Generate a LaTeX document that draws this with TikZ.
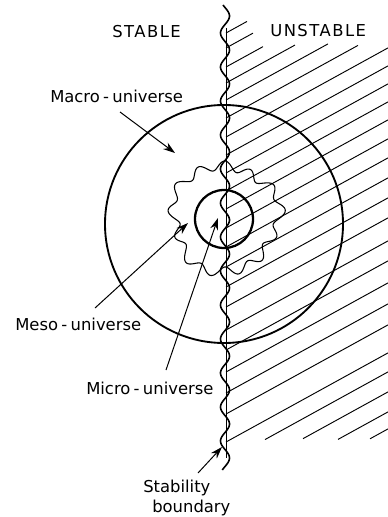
\documentclass[tikz,border=0pt]{standalone}
\usepackage{fontspec}
\setmainfont{DejaVu Sans}
\usetikzlibrary{arrows.meta}
\begin{document}
\begin{tikzpicture}[x=0.75pt,y=-0.75pt,
  lbl/.style={inner sep=0pt, anchor=base west, font=\fontsize{12.3}{14}\selectfont},
  hatch/.style={line width=0.7pt},
  bigring/.style={line width=1.4pt},
  smallring/.style={line width=1.7pt},
  blob/.style={line width=0.8pt},
  pointer/.style={line width=0.75pt, -{Stealth[length=9pt,width=6pt]}},
  wave/.style={line width=1.2pt},
  axisline/.style={line width=0.6pt}]
\useasboundingbox (0,0) rectangle (388,517);
% hatching of the unstable side
\foreach \c/\xe in {33/247, 48/253, 67/263, 83/295, 100/328, 118/358, 137/388, 155/388, 173/388, 191/388, 209/388, 228/388, 247/388, 267/388, 287/388, 307/388, 330/388, 350/388, 372/388, 393/388, 414/388, 442/388}
  \draw[hatch] (226,\c) -- (\xe,{\c-0.55*(\xe-226)});
\foreach \xs/\c in {265/461, 303/481, 338/501, 370/518}
  \draw[hatch] (\xs,{\c-0.55*(\xs-226)}) -- (388,{\c-0.55*162});
% straight boundary
\draw[axisline] (226,28) -- (226,458);
% wavy stability boundary
\draw[wave] plot[domain=5:470, samples=320, smooth, variable=\t] ({225-4.5*cos(10.588*(\t-33))}, \t);
% macro-universe
\draw[bigring] (224,224) circle[radius=119];
% meso-universe blob
\draw[blob] plot[domain=0:360, samples=300, smooth, variable=\t]
  ({225+(53+4.5*sin(13*\t)+2.5*sin(3*\t+40)+1.5*sin(5*\t+10))*cos(\t)}, {218-(53+4.5*sin(13*\t)+2.5*sin(3*\t+40)+1.5*sin(5*\t+10))*sin(\t)}) -- cycle;
% micro-universe
\draw[smallring] (224,219) circle[radius=29];
% labels
\node[lbl] (stable) at (112,38) {\addfontfeatures{LetterSpace=9}STABLE};
\node[lbl] (unstable) at (270,37) {\addfontfeatures{LetterSpace=9}UNSTABLE};
\node[lbl] (macro) at (50,102) {Macro\kern2.5pt-\kern2.5pt universe};
\node[lbl] (meso) at (15,330) {Meso\kern2.5pt-\kern2.5pt universe};
\node[lbl] (micro) at (86,394) {Micro\kern2.5pt-\kern2.5pt universe};
\node[lbl] (stab) at (143,492) {Stability};
\node[lbl] (bnd) at (152,512) {boundary};
% arrows
\coordinate (macroTail) at (120,112);
\coordinate (macroTip) at (175,153);
\coordinate (mesoTail) at (95,308);
\coordinate (mesoTip) at (188,223);
\coordinate (microTail) at (166,370);
\coordinate (microTip) at (218,218);
\coordinate (stabTail) at (198,473);
\coordinate (stabTip) at (222,447);
\draw[pointer] (macroTail) -- (macroTip);
\draw[pointer] (mesoTail) -- (mesoTip);
\draw[pointer] (microTail) -- (microTip);
\draw[pointer] (stabTail) -- (stabTip);
\end{tikzpicture}
\end{document}
